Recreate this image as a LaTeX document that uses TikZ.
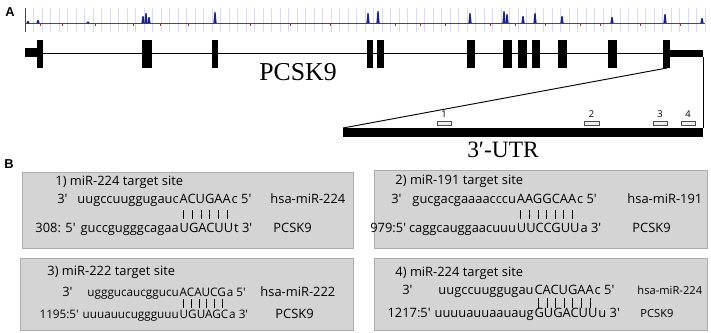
\documentclass[tikz,border=0pt]{standalone}
\usepackage{fontspec}
\setmainfont{Open Sans}
\newfontfamily\genefont{Liberation Serif}
\newfontfamily\tagfont{Liberation Sans}
\usepackage{xcolor}
\usetikzlibrary{positioning,calc}

\definecolor{peakblue}{RGB}{28,36,128}
\definecolor{basered}{RGB}{170,35,35}
\definecolor{gridlav}{RGB}{218,218,242}

\tikzset{
  exon/.style={fill=black},
  panel/.style={fill=black!17, draw=black!32, line width=0.4pt},
  seq/.style={inner sep=0pt, anchor=base west, font=\fontsize{11}{13}\selectfont},
  seqsmall/.style={seq, font=\fontsize{10}{12}\selectfont},
  seqtiny/.style={seq, font=\fontsize{9.5}{11}\selectfont},
  pairbar/.style={line width=0.6pt},
  sitebox/.style={fill=black!6, draw=black!70, line width=0.5pt},
  sitenum/.style={inner sep=0pt, font=\fontsize{8}{9}\selectfont},
  paneltag/.style={inner sep=0pt, font=\tagfont\bfseries\fontsize{11}{12}\selectfont}
}

% bars between the paired bases of a miRNA and its target
\newcommand\pairbars[4]{%
  \foreach \i in {1,...,#2}
    \draw[pairbar] ($(#1.base west)!{(\i-0.5)/#2}!(#1.base east)$) +(0,#3) -- +(0,#4);}

\begin{document}
\begin{tikzpicture}[x=0.03cm, y=-0.03cm, line width=0.8pt]
  \useasboundingbox (0,0) rectangle (711,332);
  \node[paneltag] (tagA) at (10,12.5) {A};
  \node[paneltag] (tagB) at (9,164) {B};

  % conservation track
  \foreach \x in {25,33.5,...,705}
    \draw[gridlav, line width=0.5pt] (\x,8) -- (\x,32);
  \draw[basered, line width=0.5pt] (25,8) -- (25,32);
  \draw[basered, line width=0.7pt] (25,23.5) -- (705,23.5);
  \foreach \x in {40,62,95,133,160,188,250,290,330,395,420,445,490,515,545,580,600,640,680}
    \draw[basered, line width=0.6pt] (\x,23.5) -- (\x,25.5);
  \foreach \x/\h in {28/2, 38/3, 88/1.5, 143/7, 146/10, 149/6, 215/11, 368/10, 378/12,
                     470/10, 504/12, 507/9, 523/7, 535/10, 562/7, 612/6, 665/9, 702/5}
    \fill[peakblue] (\x-1.6,23) -- (\x-0.6,23-\h) -- (\x+0.6,23-\h) -- (\x+1.6,23) -- cycle;

  % gene model
  \draw (25,53) -- (703,53);
  \fill[exon] (25,48) rectangle (40,57);
  \foreach \a/\b in {37/43, 142/152, 212/218, 367/373, 377/384, 467/475,
                     503/512, 518/527, 532/540, 558/567, 608/617}
    \fill[exon] (\a,40) rectangle (\b,68);
  \fill[exon] (663,40) rectangle (670,68);
  \fill[exon] (670,50) rectangle (703,57);
  \node[inner sep=0pt, font=\genefont\fontsize{22}{24}\selectfont] (gene) at (298,72) {PCSK9};

  % 3'-UTR blow-up
  \coordinate (exonEnd) at (667,68);
  \coordinate (utrEnd) at (703,57);
  \fill[exon] (343,128) rectangle (703,137);
  \coordinate (utrL) at (343,128);
  \coordinate (utrR) at (703,128);
  \draw (exonEnd) -- (utrL);
  \draw (utrEnd) -- (utrR);
  \foreach \n/\a/\b in {1/437/451, 2/584/599, 3/653/667, 4/681/695} {
    \draw[sitebox] (\a,121) rectangle (\b,125);
    \node[sitenum] (num\n) at ({(\a+\b)/2},114) {\n};
  }
  \node[inner sep=0pt, font=\genefont\fontsize{20}{22}\selectfont] (utr) at (503,150) {3′-UTR};

  % panel 1
  \draw[panel] (22,172) rectangle (353,248);
  \node[seq] (title1) at (55,185) {1) miR-224 target site};
  \node[seq] (m1a) at (77,203) {uugccuuggugauc};
  \node[seq] (m1b) at (m1a.base east) {ACUGAA};
  \node[seq] (m1c) at (m1b.base east) {c 5′};
  \node[seq, anchor=base east] (m1p) at ($(m1a.base west)+(-9,0)$) {3′};
  \node[seq] (mir1) at (270,203) {hsa-miR-224};
  \node[seq] (t1b) at ($(m1b.base west)+(0,29)$) {UGACUU};
  \node[seq, anchor=base east] (t1a) at (t1b.base west) {guccgugggcagaa};
  \node[seq] (t1c) at (t1b.base east) {t 3′};
  \node[seq, anchor=base east] (t1p) at ($(t1a.base west)+(-4,0)$) {308: 5′};
  \node[seq] (gene1) at (273,232) {PCSK9};
  \pairbars{m1b}{6}{7}{16}

  % panel 2
  \draw[panel] (374,170) rectangle (707,248);
  \node[seq] (title2) at (395,184) {2) miR-191 target site};
  \node[seq] (m2a) at (412,203) {gucgacgaaaacccu};
  \node[seq] (m2b) at (m2a.base east) {AAGGCAA};
  \node[seq] (m2c) at (m2b.base east) {c 5′};
  \node[seq, anchor=base east] (m2p) at ($(m2a.base west)+(-10,0)$) {3′};
  \node[seq] (mir2) at (627,203) {hsa-miR-191};
  \node[seq] (t2b) at ($(m2b.base west)+(0,29)$) {UUCCGUU};
  \node[seq, anchor=base east] (t2a) at (t2b.base west) {caggcauggaacuuu};
  \node[seq] (t2c) at (t2b.base east) {a 3′};
  \node[seq, anchor=base east] (t2p) at ($(t2a.base west)+(-2,0)$) {979:5′};
  \node[seq] (gene2) at (632,232) {PCSK9};
  \pairbars{m2b}{7}{7}{16}

  % panel 3
  \draw[panel] (20,258) rectangle (353,330);
  \node[seq] (title3) at (47,275) {3) miR-222 target site};
  \node[seqsmall] (m3a) at (87,296) {ugggucaucggucu};
  \node[seqsmall] (m3b) at (m3a.base east) {ACAUCG};
  \node[seqsmall] (m3c) at (m3b.base east) {a 5′};
  \node[seq, anchor=base east] (m3p) at ($(m3a.base west)+(-14,0)$) {3′};
  \node[seq] (mir3) at (260,296) {hsa-miR-222};
  \node[seqsmall] (t3b) at ($(m3b.base west)+(0,22)$) {UGUAGC};
  \node[seqsmall, anchor=base east] (t3a) at (t3b.base west) {uuuauucuggguuu};
  \node[seqsmall] (t3c) at (t3b.base east) {a 3′};
  \node[seqsmall, anchor=base east] (t3p) at ($(t3a.base west)+(-3,0)$) {1195:5′};
  \node[seq] (gene3) at (275,318) {PCSK9};
  \pairbars{m3b}{6}{3}{12}

  % panel 4
  \draw[panel] (374,258) rectangle (707,330);
  \node[seq] (title4) at (395,276) {4) miR-224 target site};
  \node[seq] (m4a) at (438,294) {uugccuuggugau};
  \node[seq] (m4b) at (m4a.base east) {CACUGAA};
  \node[seq] (m4c) at (m4b.base east) {c 5′};
  \node[seq, anchor=base east] (m4p) at ($(m4a.base west)+(-25,0)$) {3′};
  \node[seqtiny] (mir4) at (637,294) {hsa-miR-224};
  \node[seq] (t4b) at ($(m4b.base west)+(0,23)$) {GUGACUU};
  \node[seq, anchor=base east] (t4a) at (t4b.base west) {uuuuauuaauaug};
  \node[seq] (t4c) at (t4b.base east) {u 3′};
  \node[seq, anchor=base east] (t4p) at ($(t4a.base west)+(-3,0)$) {1217:5′};
  \node[seqtiny] (gene4) at (640,317) {PCSK9};
  \pairbars{m4b}{7}{4}{14}
\end{tikzpicture}
\end{document}
